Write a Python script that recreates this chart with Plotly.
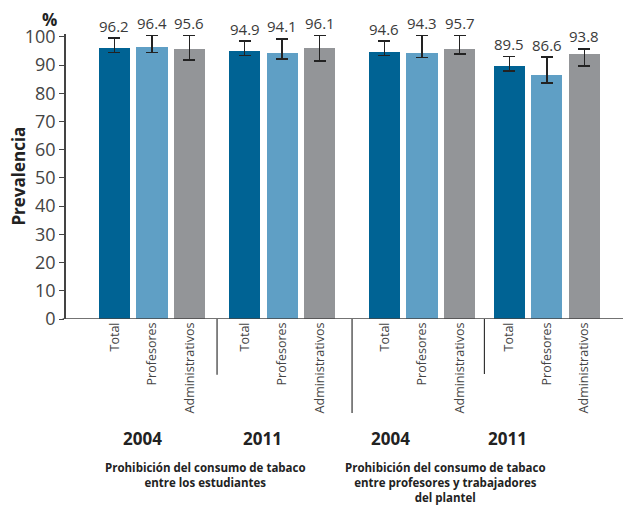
import plotly.graph_objects as go

# ---- data ----
groups = ["2004", "2011", "2004", "2011"]
categories = ["Total", "Profesores", "Administrativos"]
values = [96.2, 96.4, 95.6, 94.9, 94.1, 96.1, 94.6, 94.3, 95.7, 89.5, 86.6, 93.8]
err_hi = [99.5, 100.4, 100.4, 98.5, 99.3, 100.4, 98.5, 100.4, 100.4, 93.0, 92.8, 95.7]
err_lo = [94.4, 94.4, 91.8, 93.3, 92.2, 91.5, 93.3, 92.6, 94.0, 87.9, 83.7, 89.7]
sections = [
    "Prohibición del consumo de tabaco<br>entre los estudiantes",
    "Prohibición del consumo de tabaco<br>entre profesores y trabajadores<br>del plantel",
]
y_ticks = list(range(0, 101, 10))

# ---- layout helpers ----
colors = ["#006394", "#5f9fc5", "#939598"]
group_offset = [0.0, 3.47, 7.2, 10.53]
bar_w = 0.83
year_pos = [0.76, 3.96, 7.37, 10.47]
section_pos = [2.43, 8.83]

xs, cols, ticktext = [], [], []
for g in range(len(groups)):
    for i, c in enumerate(categories):
        xs.append(group_offset[g] + i)
        cols.append(colors[i])
        ticktext.append(c)

plus = [h - v for h, v in zip(err_hi, values)]
minus = [v - l for l, v in zip(err_lo, values)]

fig = go.Figure()
fig.add_trace(go.Bar(
    x=xs, y=values, width=bar_w,
    marker=dict(color=cols, line=dict(width=0)),
    error_y=dict(type="data", symmetric=False, array=plus, arrayminus=minus,
                 color="#222222", thickness=1.5, width=6),
    cliponaxis=False, hoverinfo="skip",
))

font = "Open Sans, Noto Sans, sans-serif"
ann = []
for x, v, h in zip(xs, values, err_hi):
    ann.append(dict(x=x, y=h, xref="x", yref="y", text=f"{v:.1f}", showarrow=False,
                    yanchor="bottom", yshift=0.5, font=dict(size=15, color="#3a3a3a", family=font)))
for x, yr in zip(year_pos, groups):
    ann.append(dict(x=x, y=-0.418, xref="x", yref="paper", text=f"<b>{yr}</b>", showarrow=False,
                    yanchor="middle", font=dict(size=17, color="#222222", family=font)))
for x, s in zip(section_pos, sections):
    ann.append(dict(x=x, y=-0.488, xref="x", yref="paper", text=f"<b>{s}</b>", showarrow=False,
                    yanchor="top", align="center", font=dict(size=11.5, color="#222222", family=font)))
ann.append(dict(x=-0.0305, y=1.052, xref="paper", yref="paper", text="<b>%</b>", showarrow=False,
                xanchor="center", yanchor="middle", font=dict(size=17, color="#222222", family=font)))
ann.append(dict(x=-0.086, y=0.5, xref="paper", yref="paper", text="<b>Prevalencia</b>", showarrow=False,
                textangle=-90, xanchor="center", yanchor="middle",
                font=dict(size=17, color="#222222", family=font)))

# separators between groups
shapes = []
sep_depth = [-0.196, -0.33, -0.193]
for g in range(len(groups) - 1):
    xm = (group_offset[g] + 2 + bar_w / 2 + group_offset[g + 1] - bar_w / 2) / 2
    shapes.append(dict(type="line", xref="x", yref="paper", x0=xm, x1=xm, y0=0, y1=sep_depth[g],
                       line=dict(color="#333333", width=1.2)))
# x axis line slightly extended left
shapes.append(dict(type="line", xref="paper", yref="y", x0=-0.006, x1=1, y0=0, y1=0,
                   line=dict(color="#444444", width=1.5)))

fig.update_layout(
    width=628, height=506,
    margin=dict(l=66, r=5, t=34, b=187, autoexpand=False),
    plot_bgcolor="white", paper_bgcolor="white",
    showlegend=False,
    bargap=0,
    font=dict(family=font),
    annotations=ann, shapes=shapes,
    xaxis=dict(range=[-1.293, 13.56], tickvals=xs, ticktext=ticktext, tickangle=-90,
               showgrid=False, zeroline=False, showline=False, ticks="", automargin=False,
               tickfont=dict(size=12.5, color="#444444", family=font)),
    yaxis=dict(range=[0, 101], tickvals=y_ticks, showgrid=False, zeroline=False,
               showline=True, linecolor="#444444", linewidth=1.5, automargin=False,
               ticks="outside", ticklen=5, tickcolor="#444444", tickwidth=1.2,
               tickfont=dict(size=18, color="#444444", family=font)),
)

fig.write_html("out.html", config={"displayModeBar": False})

# remove the default page margin so the figure sits at the window's corner
with open("out.html", encoding="utf-8") as f:
    html = f.read()
html = html.replace("<body>", '<body style="margin:0;padding:0;overflow:hidden">', 1)
with open("out.html", "w", encoding="utf-8") as f:
    f.write(html)
